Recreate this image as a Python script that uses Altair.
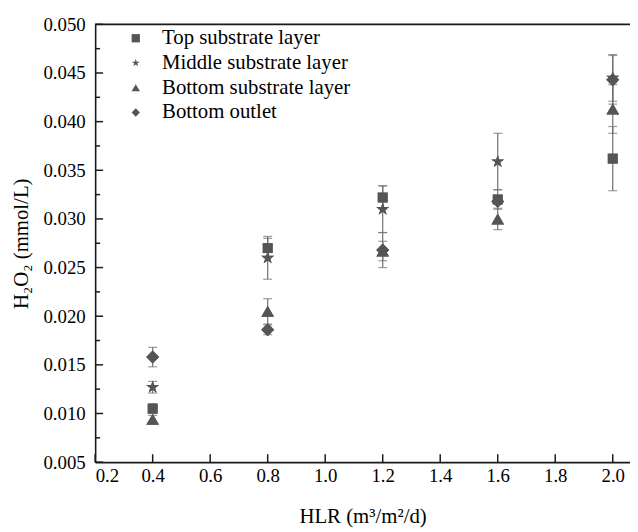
import altair as alt
import pandas as pd

hlr = [0.4, 0.8, 1.2, 1.6, 2.0]
series_names = ["Top substrate layer", "Middle substrate layer",
                "Bottom substrate layer", "Bottom outlet"]
top_mean = [0.0105, 0.0270, 0.0322, 0.0320, 0.0362]
top_err = [0.0005, 0.0010, 0.0012, 0.0010, 0.0033]
mid_mean = [0.0127, 0.0260, 0.0310, 0.0359, 0.0445]
mid_err = [0.0006, 0.0022, 0.0024, 0.0029, 0.0024]
bot_mean = [0.0094, 0.0205, 0.0267, 0.0300, 0.0413]
bot_err = [0.0004, 0.0013, 0.0010, 0.0011, 0.0025]
out_mean = [0.0158, 0.0186, 0.0268, 0.0318, 0.0443]
out_err = [0.0010, 0.0005, 0.0018, 0.0002, 0.0025]

y_major = [0.005, 0.010, 0.015, 0.020, 0.025, 0.030, 0.035, 0.040, 0.045, 0.050]
y_minor = [0.0075, 0.0125, 0.0175, 0.0225, 0.0275, 0.0325, 0.0375, 0.0425, 0.0475]
x_major = [0.2, 0.4, 0.6, 0.8, 1.0, 1.2, 1.4, 1.6, 1.8, 2.0]
y_top = [0.050]

STAR = ("M0,-1L0.2245,-0.309L0.951,-0.309L0.363,0.118L0.588,0.809L0,0.382"
        "L-0.588,0.809L-0.363,0.118L-0.951,-0.309L-0.2245,-0.309Z")
shapes = ["square", STAR, "triangle-up", "diamond"]
sizes = [100, 190, 165, 170]

W, H = 540, 442
FONT = "Liberation Serif"

rows = []
for name, means, errs, sz in zip(series_names,
                                 [top_mean, mid_mean, bot_mean, out_mean],
                                 [top_err, mid_err, bot_err, out_err], sizes):
    for x, m, e in zip(hlr, means, errs):
        rows.append({"x": x, "y": m, "lo": m - e, "hi": m + e, "series": name, "sz": sz})
df = pd.DataFrame(rows)

xscale = alt.Scale(domain=[0.2, 2.06], nice=False, zero=False)
yscale = alt.Scale(domain=[0.005, 0.050], nice=False, zero=False)

base = alt.Chart(df)

points = base.mark_point(filled=True, color="#555555", opacity=1).encode(
    x=alt.X("x:Q", scale=xscale,
            axis=alt.Axis(title="HLR (m³/m²/d)", values=x_major, format=".1f",
                          ticks=False, grid=False, domainColor="#1a1a1a",
                          domainWidth=1.6, labelPadding=5, titlePadding=20)),
    y=alt.Y("y:Q", scale=yscale,
            axis=alt.Axis(title="H₂O₂ (mmol/L)", values=y_major, format=".3f",
                          ticks=False, grid=False, domainColor="#1a1a1a",
                          domainWidth=1.6, labelPadding=10, titlePadding=12)),
    shape=alt.Shape("series:N", scale=alt.Scale(domain=series_names, range=shapes),
                    legend=alt.Legend(title=None, orient="none", legendX=30.5, legendY=3.5,
                                      symbolSize=70, symbolFillColor="#555555",
                                      labelFont=FONT, labelLimit=400,
                                      labelFontSize=21, labelColor="black",
                                      labelOffset=16, rowPadding=3, padding=0)),
    size=alt.Size("sz:Q", scale=None),
)

ebar_color = "#707070"
bars = base.mark_rule(color=ebar_color, strokeWidth=1.2).encode(
    x=alt.X("x:Q", scale=xscale),
    y=alt.Y("lo:Q", scale=yscale),
    y2="hi:Q",
)
cap_lo = base.mark_tick(color=ebar_color, orient="horizontal", size=9, thickness=1.2).encode(
    x=alt.X("x:Q", scale=xscale),
    y=alt.Y("lo:Q", scale=yscale),
)
cap_hi = base.mark_tick(color=ebar_color, orient="horizontal", size=9, thickness=1.2).encode(
    x=alt.X("x:Q", scale=xscale),
    y=alt.Y("hi:Q", scale=yscale),
)

ymaj_df = pd.DataFrame({"v": y_major})
ymin_df = pd.DataFrame({"v": y_minor})
xmaj_df = pd.DataFrame({"v": x_major})
ytop_df = pd.DataFrame({"v": y_top})

ytick_major = alt.Chart(ymaj_df).mark_rule(color="#1a1a1a", strokeWidth=1.5).encode(
    y=alt.Y("v:Q", scale=yscale), x=alt.value(0), x2=alt.value(8))
ytick_minor = alt.Chart(ymin_df).mark_rule(color="#1a1a1a", strokeWidth=1.5).encode(
    y=alt.Y("v:Q", scale=yscale), x=alt.value(0), x2=alt.value(5))
xtick_major = alt.Chart(xmaj_df).mark_rule(color="#1a1a1a", strokeWidth=1.5).encode(
    x=alt.X("v:Q", scale=xscale), y=alt.value(H), y2=alt.value(H - 8))
top_line = alt.Chart(ytop_df).mark_rule(color="#1a1a1a", strokeWidth=1.6).encode(
    y=alt.Y("v:Q", scale=yscale), x=alt.value(0), x2=alt.value(W))

chart = alt.layer(
    points, top_line, ytick_major, ytick_minor, xtick_major, bars, cap_lo, cap_hi, points
).properties(
    width=W, height=H,
    autosize=alt.AutoSizeParams(type="none"),
    padding={"left": 88, "top": 14, "right": 0, "bottom": 66},
).configure_view(stroke=None).configure_axis(
    labelFont=FONT, labelFontSize=19, labelColor="black",
    titleFont=FONT, titleFontSize=21, titleFontWeight="normal", titleColor="black",
)

chart.save("out.html", embed_options={"renderer": "svg", "actions": False})
